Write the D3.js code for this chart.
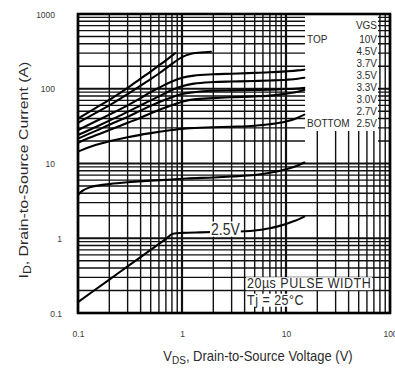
<!DOCTYPE html>
<html>
<head>
<meta charset="utf-8">
<script src="https://cdn.jsdelivr.net/npm/d3@7"></script>
<style>
  body { margin: 0; background: #fff; }
  svg { display: block; font-family: "Liberation Sans", Arial, sans-serif; }
</style>
</head>
<body>
<div id="chart"></div>
<script>
// typical output characteristics, points are [VDS (V), ID (A)]
const curve10V  = [[0.1,40],[0.15,56],[0.2,71],[0.3,103],[0.4,137],[0.5,170],[0.6,205],[0.7,240],[0.86,300]];
const curve45V  = [[0.1,35],[0.15,48],[0.2,60],[0.3,85],[0.4,110],[0.5,135],[0.6,160],[0.8,215],[1.0,265],[1.2,292],[1.5,305],[1.9,313]];
const curve37V  = [[0.1,28],[0.15,37],[0.2,45],[0.3,60],[0.4,75],[0.5,90],[0.6,103],[0.8,125],[1.0,140],[1.3,150],[2,156],[3,159],[5,163],[7,166],[10,171],[13,176],[15,180]];
const curve35V  = [[0.1,24],[0.15,31],[0.2,37.5],[0.3,49],[0.4,60],[0.5,70],[0.6,79],[0.8,96],[1.0,108],[1.3,117],[2,123],[3,125],[5,127],[7,129],[10,132],[13,136],[15,140]];
const curve33V  = [[0.1,21.5],[0.15,27.5],[0.2,33],[0.3,42],[0.4,51],[0.5,59],[0.6,66],[0.8,77],[1.0,85],[1.3,90],[2,94],[3,95],[5,96],[7,97],[10,99],[13,101],[15,103]];
const curve30V  = [[0.1,19],[0.15,24],[0.2,28],[0.3,35],[0.4,41],[0.5,47],[0.6,52],[0.8,60],[1.0,67],[1.3,72],[2,75],[3,77],[5,79],[7,81],[10,86],[13,91],[15,96]];
const curve27V  = [[0.1,14.4],[0.12,16],[0.15,17.8],[0.2,19.8],[0.3,22.5],[0.5,25.5],[0.8,28],[1.1,29.5],[2,30.5],[3,31],[5,32],[7,33.5],[10,36.5],[13,41],[15,45]];
const curveLow  = [[0.1,3.8],[0.11,4.3],[0.13,4.8],[0.16,5.1],[0.2,5.3],[0.3,5.6],[0.5,5.9],[0.8,6.1],[1.1,6.3],[2,6.5],[3,6.7],[5,7],[7,7.5],[10,8.4],[13,9.4],[15,10.3]];
const curve25V  = [[0.1,0.14],[0.2,0.28],[0.3,0.42],[0.5,0.7],[0.7,0.98],[0.82,1.15],[1,1.18],[1.5,1.2],[2,1.21],[3,1.22],[4,1.24],[5,1.27],[6,1.31],[7,1.36],[8,1.42],[10,1.55],[12,1.7],[15,1.95]];

const allCurves = [curve10V, curve45V, curve37V, curve35V, curve33V, curve30V, curve27V, curveLow, curve25V];

// legend and tick labels
const legendValues = ['10V', '4.5V', '3.7V', '3.5V', '3.3V', '3.0V', '2.7V', '2.5V'];
const xTickValues = [0.1, 1, 10, 100];
const yTickValues = [0.1, 1, 10, 100, 1000];

// constants
const width = 395, height = 369;
const margins = { top: 14, bottom: 56, left: 78, right: 5 };
const textStretch = 1.15;
const textColor = '#2b2b2b';

const svg = d3.select('#chart').append('svg')
    .attr('width', width)
    .attr('height', height);

const innerW = width - margins.left - margins.right;
const innerH = height - margins.top - margins.bottom;

// scales
const xScale = d3.scaleLog().domain([0.1, 100]).range([margins.left, margins.left + innerW]);
const yScale = d3.scaleLog().domain([0.1, 1000]).range([margins.top + innerH, margins.top]);

const isDecade = v => Math.abs(Math.log10(v) - Math.round(Math.log10(v))) < 1e-9;

// horizontal grid
svg.append('g')
    .selectAll('line')
    .data(yScale.ticks())
    .join('line')
    .attr('x1', xScale.range()[0]).attr('x2', xScale.range()[1])
    .attr('y1', d => yScale(d)).attr('y2', d => yScale(d))
    .attr('stroke', '#111')
    .attr('stroke-width', d => isDecade(d) ? 2.2 : 1.4);

// blank strip under the legend (only vertical lines show there)
svg.append('rect')
    .attr('x', 305).attr('y', 131).attr('width', 73).attr('height', 27)
    .attr('fill', '#fff');

// vertical grid
svg.append('g')
    .selectAll('line')
    .data(xScale.ticks())
    .join('line')
    .attr('x1', d => xScale(d)).attr('x2', d => xScale(d))
    .attr('y1', yScale.range()[0]).attr('y2', yScale.range()[1])
    .attr('stroke', '#111')
    .attr('stroke-width', d => isDecade(d) ? 2.2 : 1.4);

// legend box
svg.append('rect')
    .attr('x', 305).attr('y', margins.top + 1).attr('width', 73).attr('height', 116)
    .attr('fill', '#fff');

// curves
const line = d3.line()
    .curve(d3.curveMonotoneX)
    .x(d => xScale(d[0]))
    .y(d => yScale(d[1]));

svg.append('g')
    .selectAll('path')
    .data(allCurves)
    .join('path')
    .attr('d', line)
    .attr('fill', 'none')
    .attr('stroke', '#000')
    .attr('stroke-width', 2.1)
    .attr('stroke-linecap', 'round');

// border
svg.append('rect')
    .attr('x', margins.left).attr('y', margins.top)
    .attr('width', innerW).attr('height', innerH)
    .attr('fill', 'none')
    .attr('stroke', '#000')
    .attr('stroke-width', 2.6);

// axes labels
const yAxisGroup = svg.append('g')
    .attr('transform', `translate(${margins.left},0)`)
    .call(d3.axisLeft(yScale).tickValues(yTickValues).tickFormat(d3.format('~g')).tickSize(0).tickPadding(23));

const xAxisGroup = svg.append('g')
    .attr('transform', `translate(0,${margins.top + innerH})`)
    .call(d3.axisBottom(xScale).tickValues(xTickValues).tickFormat(d3.format('~g')).tickSize(0).tickPadding(14.5));

[yAxisGroup, xAxisGroup].forEach(g => {
    g.select('.domain').remove();
    g.selectAll('text')
        .attr('font-family', '"Liberation Sans", Arial, sans-serif')
        .attr('font-size', 8.5)
        .attr('fill', '#3a3a3a')
        .attr('transform', `scale(1,${textStretch})`);
});
// the small labels sit a bit further right in the original
yAxisGroup.selectAll('text').filter(d => d < 10).attr('x', -16);

// text helper, optional white background
function addLabel(x, y, str, size, anchor, withBg, spacing) {
    const g = svg.append('g').attr('transform', `translate(${x},${y})`);
    g.append('text')
        .attr('transform', `scale(1,${textStretch})`)
        .attr('font-size', size)
        .attr('text-anchor', anchor)
        .attr('letter-spacing', spacing || 0)
        .attr('fill', textColor)
        .text(str);
    if (withBg) {
        const b = g.node().getBBox();
        g.insert('rect', 'text')
            .attr('x', b.x - 1).attr('y', b.y + 2)
            .attr('width', b.width + 2).attr('height', b.height - 3)
            .attr('fill', '#fff');
    }
    return g;
}

// legend texts
addLabel(377, 29, 'VGS', 10, 'end', false);
addLabel(307, 42.5, 'TOP', 10, 'start', false);
addLabel(307, 126.5, 'BOTTOM', 10, 'start', false);
legendValues.forEach((v, i) => addLabel(377, 42.5 + i * 12, v, 10, 'end', false));

// curve label and test conditions
addLabel(211, 234.5, '2.5V', 14, 'start', true);
addLabel(247, 288, '20\u00b5s PULSE WIDTH', 12.5, 'start', true, 0.5);
addLabel(247, 304.5, 'Tj = 25\u00b0C', 12.5, 'start', true, 0.5);

// axis titles
const xTitle = svg.append('text')
    .attr('transform', `translate(${(margins.left + xScale(100)) / 2 + 24},361) scale(1,${textStretch})`)
    .attr('text-anchor', 'middle')
    .attr('font-size', 13)
    .attr('fill', textColor);
xTitle.append('tspan').text('V');
xTitle.append('tspan').attr('font-size', 10).attr('dy', 3).text('DS');
xTitle.append('tspan').attr('dy', -3).text(', Drain-to-Source Voltage (V)');

const yTitle = svg.append('text')
    .attr('transform', `translate(28,170) scale(1,1.22) rotate(-90)`)
    .attr('text-anchor', 'middle')
    .attr('font-size', 13)
    .attr('fill', textColor);
yTitle.append('tspan').text('I');
yTitle.append('tspan').attr('font-size', 10).attr('dy', 3).text('D');
yTitle.append('tspan').attr('dy', -3).text(', Drain-to-Source Current (A)');
</script>
</body>
</html>
